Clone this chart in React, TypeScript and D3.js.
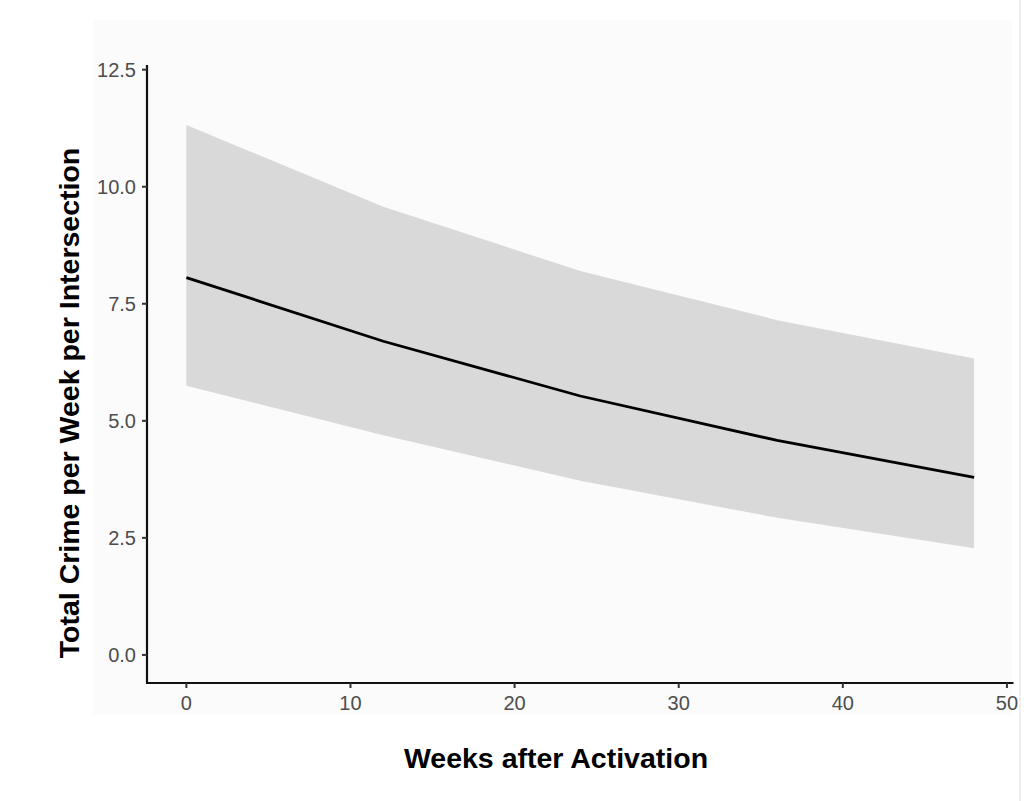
import React from "react";
import * as d3 from "d3";

const weeks = [0, 12, 24, 36, 48];
const estimate = [8.06, 6.7, 5.53, 4.58, 3.79];
const upper = [11.32, 9.57, 8.2, 7.15, 6.33];
const lower = [5.75, 4.69, 3.72, 2.93, 2.28];

const xTicks = [0, 10, 20, 30, 40, 50];
const yTicks = [0, 2.5, 5, 7.5, 10, 12.5];

const xTitle = "Weeks after Activation";
const yTitle = "Total Crime per Week per Intersection";

export default function App() {
  const W = 1024;
  const H = 801;
  const x = d3.scaleLinear().domain([-2.4, 50.4]).range([147, 1013.5]);
  const y = d3.scaleLinear().domain([-0.6, 12.6]).range([683, 65]);

  const rows = weeks.map((w, i) => ({ w, est: estimate[i], lo: lower[i], hi: upper[i] }));

  const area = d3
    .area<any>()
    .x((d) => x(d.w))
    .y0((d) => y(d.lo))
    .y1((d) => y(d.hi));
  const line = d3
    .line<any>()
    .x((d) => x(d.w))
    .y((d) => y(d.est));

  const [x0, x1] = x.range();
  const [yb, yt] = y.range();
  const font = "'Liberation Sans', Arial, Helvetica, sans-serif";

  return (
    <div style={{ position: "absolute", left: 0, top: 0 }}>
      <svg width={W} height={H} style={{ display: "block" }}>
        <rect x={0} y={0} width={W} height={H} fill="#ffffff" />
        <rect x={93} y={20} width={919} height={695} fill="#fbfbfb" />
        <line x1={1020} x2={1020} y1={0} y2={H} stroke="#ebebeb" strokeWidth={1.5} />
        <path d={area(rows) || ""} fill="#d9d9d9" />
        <path d={line(rows) || ""} fill="none" stroke="#000" strokeWidth={2.8} />
        {/* axes */}
        <line x1={x0} x2={x0} y1={yt} y2={yb + 1} stroke="#111" strokeWidth={2.2} />
        <line x1={x0 - 1} x2={x1} y1={yb} y2={yb} stroke="#111" strokeWidth={2.2} />
        {yTicks.map((t) => (
          <g key={"y" + t}>
            <line x1={x0 - 5} x2={x0} y1={y(t)} y2={y(t)} stroke="#333" strokeWidth={2} />
            <text
              x={x0 - 11}
              y={y(t)}
              dy="0.36em"
              textAnchor="end"
              fontFamily={font}
              fontSize={20}
              fill="#4d4d4d"
            >
              {t.toFixed(1)}
            </text>
          </g>
        ))}
        {xTicks.map((t) => (
          <g key={"x" + t}>
            <line x1={x(t)} x2={x(t)} y1={yb} y2={yb + 5} stroke="#333" strokeWidth={2} />
            <text
              x={x(t)}
              y={yb + 27}
              textAnchor="middle"
              fontFamily={font}
              fontSize={20}
              fill="#4d4d4d"
            >
              {t}
            </text>
          </g>
        ))}
        <text
          x={556}
          y={768}
          textAnchor="middle"
          fontFamily={font}
          fontSize={28.5}
          fontWeight="bold"
          fill="#000"
        >
          {xTitle}
        </text>
        <text
          transform={`translate(79,403) rotate(-90)`}
          textAnchor="middle"
          fontFamily={font}
          fontSize={28.5}
          fontWeight="bold"
          fill="#000"
        >
          {yTitle}
        </text>
      </svg>
    </div>
  );
}
